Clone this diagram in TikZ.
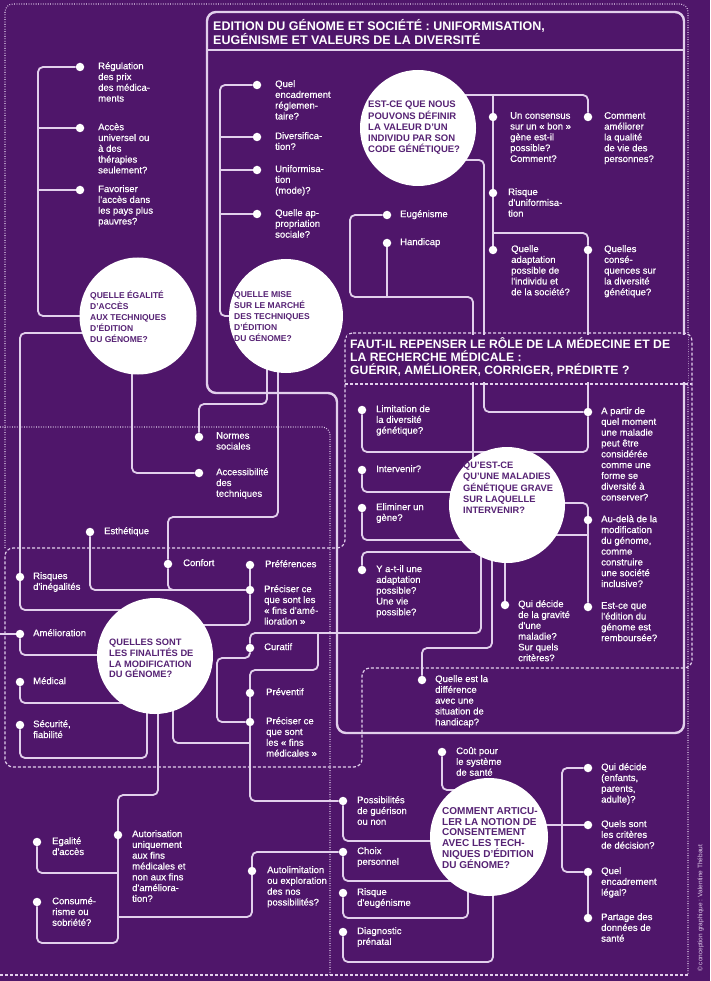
\documentclass[tikz,border=0pt]{standalone}
\usepackage{fontspec}
\setmainfont{Liberation Sans}
\newfontfamily\itemfont{Liberation Sans}[FakeBold=0.6]
\definecolor{plum}{RGB}{79,22,106}
\definecolor{lila}{RGB}{226,208,236}
\definecolor{ink}{RGB}{86,34,116}
\pgfdeclarelayer{bg}
\pgfsetlayers{bg,main}
\tikzset{bullet/.style = {circle, fill=white, inner sep=0pt, minimum size=8.5pt},
         bubble/.style = {circle, fill=white, inner sep=0pt},
         txt/.style = {anchor=north west, align=left, inner sep=0pt, text=white, font=\itemfont\fontsize{9.5}{10.8}\selectfont},
         btxt/.style = {anchor=north west, align=left, inner sep=0pt, text=ink, font=\bfseries\fontsize{9.5}{11.2}\selectfont},
         headtxt/.style = {anchor=north west, align=left, inner sep=0pt, text=white},
         link/.style = {draw=lila, line width=1.8pt, rounded corners=5pt},
         boxline/.style = {draw=lila, line width=2.4pt, rounded corners=9pt},
         dashline/.style = {draw=lila, line width=1.2pt, dash pattern=on 3pt off 2pt, rounded corners=8pt},
         dotline/.style = {draw=lila, line width=1.1pt, dash pattern=on 0.8pt off 1.6pt, rounded corners=8pt}}

\begin{document}
\begin{tikzpicture}[x=1pt,y=-1pt]
    \useasboundingbox(0,0)rectangle(710,981);
    \node[bubble,minimum size=117pt](C1)at(138,316){};
    \node[btxt,font=\bfseries\fontsize{8.5}{11}\selectfont](C1t)at(90,291){QUELLE ÉGALITÉ\\D'ACCÈS\\AUX TECHNIQUES\\D'ÉDITION\\DU GÉNOME?};
    \node[bubble,minimum size=114pt](C2)at(286,316){};
    \node[btxt,font=\bfseries\fontsize{8.5}{11}\selectfont](C2t)at(234,291){QUELLE MISE\\SUR LE MARCHÉ\\DES TECHNIQUES\\D'ÉDITION\\DU GÉNOME?};
    \node[bubble,minimum size=116pt](C3)at(418,128){};
    \node[btxt](C3t)at(368,101){EST-CE QUE NOUS\\POUVONS DÉFINIR\\LA VALEUR D'UN\\INDIVIDU PAR SON\\CODE GÉNÉTIQUE?};
    \node[bubble,minimum size=116pt](C4)at(507,505){};
    \node[btxt,font=\bfseries\fontsize{9.3}{11.2}\selectfont](C4t)at(463,462){QU'EST-CE\\QU'UNE MALADIES\\GÉNÉTIQUE GRAVE\\SUR LAQUELLE\\INTERVENIR?};
    \node[bubble,minimum size=116pt](C5)at(155,656){};
    \node[btxt,font=\bfseries\fontsize{9.3}{10.7}\selectfont](C5t)at(109,639){QUELLES SONT\\LES FINALITÉS DE\\LA MODIFICATION\\DU GÉNOME?};
    \node[bubble,minimum size=118pt](C6)at(489,837){};
    \node[btxt,font=\bfseries\fontsize{10}{10.9}\selectfont](C6t)at(442,807){COMMENT ARTICU-\\LER LA NOTION DE\\CONSENTEMENT\\AVEC LES TECH-\\NIQUES D'ÉDITION\\DU GÉNOME?};
    \node[headtxt,font=\bfseries\fontsize{12.5}{12}\selectfont](hA)at(213,19){EDITION DU GÉNOME ET SOCIÉTÉ : UNIFORMISATION,\\EUGÉNISME ET VALEURS DE LA DIVERSITÉ};
    \fill[plum](347,335)rectangle(688,382);
    \node[headtxt,font=\bfseries\fontsize{12.2}{13}\selectfont](hB)at(350,337){FAUT-IL REPENSER LE RÔLE DE LA MÉDECINE ET DE\\LA RECHERCHE MÉDICALE :\\GUÉRIR, AMÉLIORER, CORRIGER, PRÉDIRTE ?};
    \node[rotate=90,anchor=south west,inner sep=0pt,text=lila,font=\fontsize{6.5}{7}\selectfont](cred)at(704,972){© conception graphique : Valentine Thébaut};
    \node[bullet](reg)at(80,67){};
    \node[txt](regt)at(98,62){Régulation\\des prix\\des médica-\\ments};
    \node[bullet](acc)at(80,128){};
    \node[txt](acct)at(98,123){Accès\\universel ou\\à des\\thérapies\\seulement?};
    \node[bullet](fav)at(80,190){};
    \node[txt](favt)at(98,185){Favoriser\\l'accès dans\\les pays plus\\pauvres?};
    \node[bullet](enc)at(257,85){};
    \node[txt](enct)at(275,80){Quel\\encadrement\\réglemen-\\taire?};
    \node[bullet](div)at(257,137){};
    \node[txt](divt)at(275,132){Diversifica-\\tion?};
    \node[bullet](uni)at(257,170){};
    \node[txt](unit)at(275,165){Uniformisa-\\tion\\(mode)?};
    \node[bullet](app)at(257,214){};
    \node[txt](appt)at(275,209){Quelle ap-\\propriation\\sociale?};
    \node[bullet](nor)at(199,437){};
    \node[txt](nort)at(216,432){Normes\\sociales};
    \node[bullet](acs)at(199,473){};
    \node[txt](acst)at(216,468){Accessibilité\\des\\techniques};
    \node[bullet](ucb)at(493,117){};
    \node[txt](ucbt)at(510,112){Un consensus\\sur un « bon »\\gène est-il\\possible?\\Comment?};
    \node[bullet](cam)at(588,117){};
    \node[txt](camt)at(604,112){Comment\\améliorer\\la qualité\\de vie des\\personnes?};
    \node[bullet](rdu)at(493,193){};
    \node[txt](rdut)at(508,188){Risque\\d'uniformisa-\\tion};
    \node[bullet](eug)at(387,215){};
    \node[txt](eugt)at(400,210){Eugénisme};
    \node[bullet](hdc)at(387,243){};
    \node[txt](hdct)at(400,238){Handicap};
    \node[bullet](qad)at(493,250){};
    \node[txt](qadt)at(511,245){Quelle\\adaptation\\possible de\\l'individu et\\de la société?};
    \node[bullet](qcs)at(588,250){};
    \node[txt](qcst)at(604,245){Quelles\\consé-\\quences sur\\la diversité\\génétique?};
    \node[bullet](lim)at(362,410){};
    \node[txt](limt)at(376,405){Limitation de\\la diversité\\génétique?};
    \node[bullet](apd)at(588,412){};
    \node[txt](apdt)at(601,407){A partir de\\quel moment\\une maladie\\peut être\\considérée\\comme une\\forme se\\diversité à\\conserver?};
    \node[bullet](itv)at(362,470){};
    \node[txt](itvt)at(376,465){Intervenir?};
    \node[bullet](eli)at(362,508){};
    \node[txt](elit)at(376,503){Eliminer un\\gène?};
    \node[bullet](aud)at(588,520){};
    \node[txt](audt)at(601,515){Au-delà de la\\modification\\du génome,\\comme\\construire\\une société\\inclusive?};
    \node[bullet](yat)at(362,570){};
    \node[txt](yatt)at(376,565){Y a-t-il une\\adaptation\\possible?\\Une vie\\possible?};
    \node[bullet](qdg)at(505,605){};
    \node[txt](qdgt)at(518,600){Qui décide\\de la gravité\\d'une\\maladie?\\Sur quels\\critères?};
    \node[bullet](rem)at(588,607){};
    \node[txt](remt)at(601,602){Est-ce que\\l'édition du\\génome est\\remboursée?};
    \node[bullet](qed)at(422,680){};
    \node[txt](qedt)at(435,675){Quelle est la\\différence\\avec une\\situation de\\handicap?};
    \node[bullet](est)at(90,532){};
    \node[txt](estt)at(104,527){Esthétique};
    \node[bullet](cnf)at(168,564){};
    \node[txt](cnft)at(183,559){Confort};
    \node[bullet](prf)at(250,565){};
    \node[txt](prft)at(265,560){Préférences};
    \node[bullet](rsq)at(20,577){};
    \node[txt](rsqt)at(33,572){Risques\\d'inégalités};
    \node[bullet](pfa)at(250,590){};
    \node[txt](pfat)at(264,585){Préciser ce\\que sont les\\« fins d'amé-\\lioration »};
    \node[bullet](aml)at(20,634){};
    \node[txt](amlt)at(33,629){Amélioration};
    \node[bullet](cur)at(250,648){};
    \node[txt](curt)at(264,643){Curatif};
    \node[bullet](med)at(20,682){};
    \node[txt](medt)at(33,677){Médical};
    \node[bullet](prv)at(250,693){};
    \node[txt](prvt)at(266,688){Préventif};
    \node[bullet](pfm)at(250,722){};
    \node[txt](pfmt)at(266,717){Préciser ce\\que sont\\les « fins\\médicales »};
    \node[bullet](sec)at(20,725){};
    \node[txt](sect)at(33,720){Sécurité,\\fiabilité};
    \node[bullet](aut)at(118,835){};
    \node[txt](autt)at(132,830){Autorisation\\uniquement\\aux fins\\médicales et\\non aux fins\\d'améliora-\\tion?};
    \node[bullet](ega)at(37,842){};
    \node[txt](egat)at(52,837){Egalité\\d'accès};
    \node[bullet](atl)at(252,871){};
    \node[txt](atlt)at(267,866){Autolimitation\\ou exploration\\des nos\\possibilités?};
    \node[bullet](cns)at(37,902){};
    \node[txt](cnst)at(52,897){Consumé-\\risme ou\\sobriété?};
    \node[bullet](cou)at(442,752){};
    \node[txt](cout)at(456,747){Coût pour\\le système\\de santé};
    \node[bullet](pos)at(343,801){};
    \node[txt](post)at(357,796){Possibilités\\de guérison\\ou non};
    \node[bullet](cho)at(343,852){};
    \node[txt](chot)at(357,847){Choix\\personnel};
    \node[bullet](reu)at(343,893){};
    \node[txt](reut)at(357,888){Risque\\d'eugénisme};
    \node[bullet](dia)at(343,932){};
    \node[txt](diat)at(357,927){Diagnostic\\prénatal};
    \node[bullet](qdc)at(588,768){};
    \node[txt](qdct)at(601,763){Qui décide\\(enfants,\\parents,\\adulte)?};
    \node[bullet](qsc)at(588,825){};
    \node[txt](qsct)at(601,820){Quels sont\\les critères\\de décision?};
    \node[bullet](qel)at(588,872){};
    \node[txt](qelt)at(601,867){Quel\\encadrement\\légal?};
    \node[bullet](par)at(588,918){};
    \node[txt](part)at(601,913){Partage des\\données de\\santé};
    \begin{pgfonlayer}{bg}
    \fill[plum](0,0)rectangle(710,981);
    \draw[dotline](5,548)--(5,4)--(688,4)--(688,975);
    \draw[dashline](0,975)--(688,975);
    \draw[dotline](330,975)--(330,427)--(0,427);
    \draw[dashline](345,333)--(692,333)--(692,668)--(362,668)--(362,767)--(5,767)--(5,548)--(345,548)--cycle;
    \draw[dashline](345,384)--(692,384);
    \draw[boxline](207,12)--(684,12)--(684,733)--(337,733)--(337,393)--(207,393)--cycle;
    \draw[boxline](207,50)--(684,50);
    \draw[link](reg)--(38,67)--(38,316)--(C1.center);
    \draw[link](acc)--(38,128);
    \draw[link](fav)--(38,190);
    \draw[link](enc)--(220,85)--(220,316)--(C2.center);
    \draw[link](div)--(220,137);
    \draw[link](uni)--(220,170);
    \draw[link](app)--(220,214);
    \draw[link](267,330)--(267,404)--(199,404)--(nor);
    \draw[link](132,330)--(132,473)--(acs);
    \draw[link](278,330)--(278,517)--(168,517)--(cnf);
    \draw[link](cnf)--(168,590)--(pfa);
    \draw[link](est)--(90,590)--(pfa);
    \draw[link](prf)--(pfa);
    \draw[link](pfa)--(250,625)--(190,625);
    \draw[link](100,333)--(20,333)--(20,610)--(130,610);
    \draw[link](0,634)--(aml);
    \draw[link](aml)--(20,655)--(130,655);
    \draw[link](med)--(20,703)--(130,703);
    \draw[link](sec)--(20,758)--(147,758)--(147,700);
    \draw[link](173,700)--(173,743)--(250,743);
    \draw[link](158,700)--(158,795)--(118,795)--(118,943)--(37,943)--(cns);
    \draw[link](ega)--(37,873)--(118,873);
    \draw[link](118,917)--(252,917)--(252,852)--(cho);
    \draw[link](cur)--(250,633)--(481,633)--(481,540);
    \draw[link](318,633)--(318,670)--(250,670)--(250,801)--(pos);
    \draw[link](cur)--(250,658)--(217,658)--(217,722)--(pfm);
    \draw[link](yat)--(362,552)--(481,552);
    \draw[link](eli)--(362,540)--(470,540);
    \draw[link](itv)--(362,492)--(470,492);
    \draw[link](lim)--(362,452)--(495,452);
    \draw[link](eug)--(350,215)--(350,297)--(473,297)--(473,480);
    \draw[link](hdc)--(387,297);
    \draw[link](455,160)--(484,160)--(484,412)--(apd);
    \draw[link](455,95)--(588,95)--(cam);
    \draw[link](493,95)--(qad);
    \draw[link](493,233)--(588,233)--(qcs);
    \draw[link](qcs)--(apd);
    \draw[link](apd)--(588,452)--(515,452);
    \draw[link](540,503)--(588,503)--(rem);
    \draw[link](530,535)--(588,535);
    \draw[link](505,540)--(qdg);
    \draw[link](492,540)--(492,648)--(422,648)--(qed);
    \draw[link](cou)--(442,790)--(465,790);
    \draw[link](pos)--(343,841)--(450,841);
    \draw[link](cho)--(343,881)--(460,881);
    \draw[link](reu)--(343,918)--(468,918)--(468,880);
    \draw[link](dia)--(343,962)--(493,962)--(493,880);
    \draw[link](530,825)--(qsc);
    \draw[link](qdc)--(562,768)--(562,872)--(qel);
    \draw[link](qel)--(par);
    \end{pgfonlayer}
\end{tikzpicture}
\end{document}
